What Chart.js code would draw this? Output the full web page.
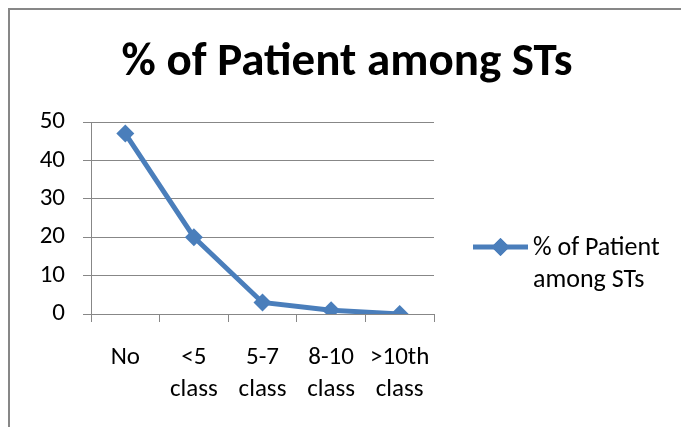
<!DOCTYPE html>
<html>
<head>
<meta charset="utf-8">
<script src="https://cdn.jsdelivr.net/npm/chart.js@4.4.1/dist/chart.umd.min.js"></script>
<style>
	html, body { margin: 0; padding: 0; background: #fff; overflow: hidden; width: 681px; height: 427px; }
	#chart { position: absolute; left: 0; top: 0; }
</style>
</head>
<body>
<canvas id="chart" width="681" height="427"></canvas>
<script>
// Chart data
const categories = [['No'], ['<5', 'class'], ['5-7', 'class'], ['8-10', 'class'], ['>10th', 'class']];
const seriesName = '% of Patient among STs';
const legendLines = ['% of Patient', 'among STs'];
const patientPct = [47, 20, 3, 1, 0];
const yTicks = [0, 10, 20, 30, 40, 50];

const FONT = "Carlito, Lato, 'Liberation Sans', sans-serif";
const BLUE = '#4a7ebb';
const GRID = '#878787';

// Outer frame (only its top and left edges fall inside the picture)
const frame = {
	id: 'frame',
	beforeDraw(chart) {
		const ctx = chart.ctx;
		ctx.save();
		ctx.fillStyle = GRID;
		ctx.fillRect(8, 8, chart.width - 8, 2);
		ctx.fillRect(8, 8, 2, chart.height - 8);
		ctx.restore();
	}
};

// Title and legend drawn by hand: title centred on the whole frame, legend label wraps
const overlay = {
	id: 'overlay',
	afterDraw(chart) {
		const ctx = chart.ctx;
		const ds = chart.data.datasets[0];
		ctx.save();
		ctx.fillStyle = '#000';
		ctx.font = `bold 47px ${FONT}`;
		ctx.textAlign = 'center';
		ctx.textBaseline = 'alphabetic';
		ctx.fillText(seriesName, 347, 75);

		const x0 = 473, x1 = 528, y = 247;
		ctx.strokeStyle = ds.borderColor;
		ctx.lineWidth = ds.borderWidth;
		ctx.beginPath();
		ctx.moveTo(x0, y);
		ctx.lineTo(x1, y);
		ctx.stroke();
		ctx.fillStyle = ds.borderColor;
		Chart.helpers.drawPoint(ctx, { pointStyle: 'rectRot', radius: 9, borderWidth: 0 }, (x0 + x1) / 2, y);
		ctx.fill();
		ctx.fillStyle = '#000';
		ctx.font = `26px ${FONT}`;
		ctx.textAlign = 'left';
		legendLines.forEach((t, i) => ctx.fillText(t, 533, 255 + i * 32));
		ctx.restore();
	}
};

new Chart(document.getElementById('chart'), {
	type: 'line',
	data: {
		labels: categories,
		datasets: [{
			label: seriesName,
			data: patientPct,
			borderColor: BLUE,
			backgroundColor: BLUE,
			borderWidth: 5,
			pointStyle: 'rectRot',
			pointRadius: 9,
			pointHoverRadius: 9,
			pointBorderWidth: 0,
			tension: 0,
		}]
	},
	options: {
		responsive: false,
		animation: false,
		events: [],
		layout: { padding: { left: 0, right: 247, top: 122, bottom: 0 } },
		plugins: {
			legend: { display: false },
			tooltip: { enabled: false },
			title: { display: false }
		},
		scales: {
			x: {
				offset: true,
				afterFit(scale) { scale.height = 113; },
				grid: { offset: true, drawOnChartArea: false, drawTicks: true, tickLength: 8, color: GRID, lineWidth: 1 },
				border: { color: GRID, width: 1 },
				ticks: { color: '#000', padding: 20, maxRotation: 0, autoSkip: false, font: { family: FONT, size: 25, lineHeight: 1.28 } }
			},
			y: {
				min: 0,
				max: 50,
				afterFit(scale) { scale.width = 91; },
				afterBuildTicks(scale) { scale.ticks = yTicks.map(v => ({ value: v })); },
				grid: { color: GRID, lineWidth: 1, tickLength: 8 },
				border: { color: GRID, width: 1 },
				ticks: { color: '#000', padding: 18, font: { family: FONT, size: 25 } }
			}
		}
	},
	plugins: [frame, overlay]
});
</script>
</body>
</html>
